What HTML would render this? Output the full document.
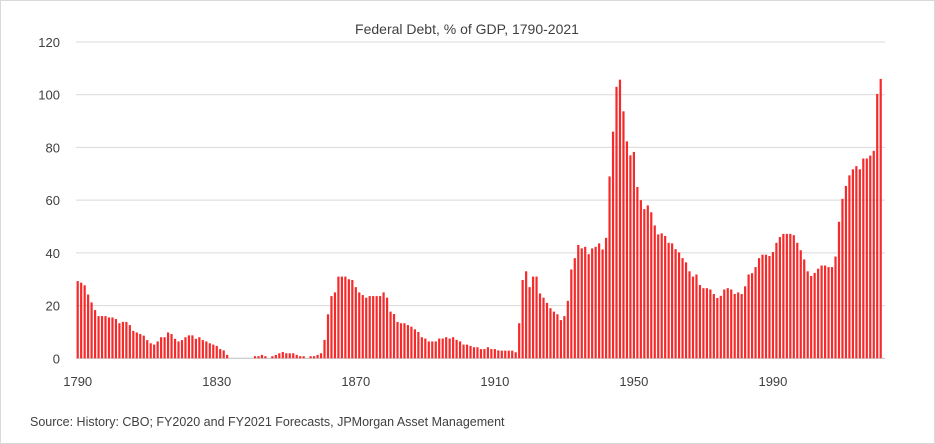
<!DOCTYPE html>
<html><head><meta charset="utf-8"><style>
html,body{margin:0;padding:0;background:#fff;}
svg{display:block;font-family:"Liberation Sans",sans-serif;}
</style></head><body>
<svg id="chart" width="935" height="444" viewBox="0 0 935 444">
<rect x="0.5" y="0.5" width="934" height="443" fill="#fff" stroke="#d9d9d9"/>
<text x="467" y="34" text-anchor="middle" font-size="14" fill="#404040">Federal Debt, % of GDP, 1790-2021</text>
<g id="grid"></g><g id="bars"></g><g id="axes"></g>
<text x="30" y="426" font-size="12.5" fill="#404040">Source: History: CBO; FY2020 and FY2021 Forecasts, JPMorgan Asset Management</text>
</svg>
<script>
const startYear = 1790;
const yTicks = [0,20,40,60,80,100,120];
const xTickLabels = [1790,1830,1870,1910,1950,1990];
const debt1790s = [29.3,28.7,27.7,24.2,21.2,18.3,16,16,16,15.5,15.5,14.9,13.3,13.8,13.8,12.6,10.4,9.8,9.2,8.6,6.9,5.7,5.2,6.4,8,8,9.8,9.2,7.4,6.4,6.9,8,8.7,8.7,7.4,8,6.9,6.4,5.7,5.2,4.7,3.5,3,1.3];
const debt1834 = [0,0,0,0,0,0,0,0.8,0.8,1.3,0.8,0,0.8,1.3,1.9,2.4,1.9,1.9,1.9,1.3,0.8,0.8,0,0.8,0.8,1.3,1.9];
const debt1861 = [7,16.7,23.6,25,31,31,31,30,29.7,27,25,24,23,23.6,23.6,23.6,23.6,25,23,17.7,16.8,13.8,13.3,13.3,12.6,12,11,10,8,7.5,6.4,6.4,6.4,7.5,7.5,8,7.5,8,7,6.4,5.2,5.2,4.7,4.2,4.2,3.5,3.5,4.2,3.5,3.5,3];
const debt1912 = [2.9,2.9,2.9,2.9,2.3,13.3,29.7,33,27,31,31,24.6,23,21,19,17.7,16.7,14.5,16,21.8,33.7,38,43,41.7,42.3,39.5,41.7,42.3,43.6,41.3,45.7,69,86,103,105.7,93.7,82.3,77,78.3,65,60,56.6,58,55.4,50.4,47,47.4,46.4,43.8];
const debt1961 = [43.6,41.4,40.2,38,36.4,33,31,31.8,27.8,26.6,26.6,26.1,24.4,22.9,23.7,26.1,26.6,26.1,24.4,25,24.4,27.3,31.8,32.3,34.6,38,39.3,39.3,38.8,40.3,43.8,46,47.2,47.2,47.2,46.7,43.8,41,37.5,33,31.2,32.4,34,35.2,35.2,34.6,34.6,38.6,51.8,60.5,65.4,69.4,71.7,72.9,71.7,75.8,75.8,76.9,78.7,100.3,106];
const values = debt1790s.concat(debt1834, debt1861, debt1912, debt1961);
const NS="http://www.w3.org/2000/svg";
const x0=77.7, x1=880.7, nYears=231;
function xScale(i){return x0+(x1-x0)*i/nYears;}
function yScale(v){return 358.3-v*(316.3/120);}
const grid=document.getElementById('grid'), bars=document.getElementById('bars'), axes=document.getElementById('axes');
yTicks.forEach(t=>{
  const l=document.createElementNS(NS,'line');
  l.setAttribute('x1',76);l.setAttribute('x2',885);l.setAttribute('y1',yScale(t));l.setAttribute('y2',yScale(t));
  l.setAttribute('stroke',t===0?'#bfbfbf':'#d9d9d9');l.setAttribute('stroke-width',1);
  
  
  grid.appendChild(l);
  const tx=document.createElementNS(NS,'text');
  tx.setAttribute('x',60);tx.setAttribute('y',yScale(t)+5);tx.setAttribute('text-anchor','end');
  tx.setAttribute('font-size','13');tx.setAttribute('fill','#404040');tx.textContent=t;
  
  
  axes.appendChild(tx);
});
xTickLabels.forEach(y=>{
  const tx=document.createElementNS(NS,'text');
  tx.setAttribute('x',xScale(y-startYear));tx.setAttribute('y',386);tx.setAttribute('text-anchor','middle');
  tx.setAttribute('font-size','13');tx.setAttribute('fill','#404040');tx.textContent=y;
  
  
  axes.appendChild(tx);
});
values.forEach((v,i)=>{
  if(v<=0)return;
  const r=document.createElementNS(NS,'rect');
  const h=358.3-yScale(v);
  r.setAttribute('x',xScale(i)-1.1);r.setAttribute('y',yScale(v));r.setAttribute('width',2.2);r.setAttribute('height',h);
  r.setAttribute('fill','#f52a2a');
  
  
  bars.appendChild(r);
});
</script>
</body></html>
